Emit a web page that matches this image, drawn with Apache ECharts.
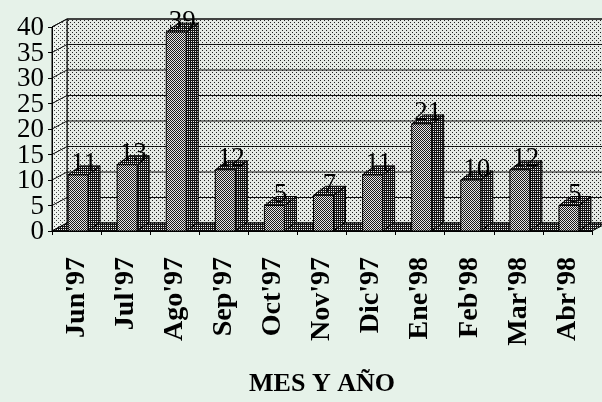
<!DOCTYPE html>
<html>
<head>
<meta charset="utf-8">
<script src="https://cdn.jsdelivr.net/npm/echarts@6/dist/echarts.min.js"></script>
<style>
html,body{margin:0;padding:0;background:#e6f2e9;}
#chart{width:602px;height:402px;}
</style>
</head>
<body>
<div id="chart"></div>
<script>
const categories = ["Jun'97","Jul'97","Ago'97","Sep'97","Oct'97","Nov'97","Dic'97","Ene'98","Feb'98","Mar'98","Abr'98"];
const values = [11, 13, 39, 12, 5, 7, 11, 21, 10, 12, 5];
const yMin = 0, yMax = 40, yStep = 5;
const xTitle = 'MES Y AÑO';

function makePattern(size, bg, fg, dots) {
  const c = document.createElement('canvas');
  c.width = c.height = size;
  const g = c.getContext('2d');
  g.fillStyle = bg; g.fillRect(0, 0, size, size);
  g.fillStyle = fg;
  dots.forEach(d => g.fillRect(d[0], d[1], d[2] || 1, d[3] || 1));
  return { image: c, repeat: 'repeat' };
}
const wallPat  = makePattern(4, '#e4e9e4', '#222', [[0,0],[2,2]]);
const lwallPat = makePattern(4, '#eef3ee', '#444', [[0,0],[2,2]]);
const frontPat = makePattern(2, '#e4e4e4', '#1a1a1a', [[0,0],[1,1]]);
const darkPat  = makePattern(4, '#f0f0f0', '#151515', [[0,0,4,4]]);
(function(){
  const g = darkPat.image.getContext('2d'); g.fillStyle = '#eeeeee';
  [[1,1],[3,3],[1,3],[3,1]].forEach(p => g.fillRect(p[0], p[1], 1, 1));
})();

const WDX = 15, WDY = -8;
const BDX = 12, BDY = -9;
const serif = '"Liberation Serif", "DejaVu Serif", serif';

const chart = echarts.init(document.getElementById('chart'));
chart.setOption({
  backgroundColor: '#e6f2e9',
  animation: false,
  grid: { left: 52, right: 10, top: 27, bottom: 156, containLabel: false },
  xAxis: {
    type: 'category', data: categories, z: 10,
    axisLine: { lineStyle: { color: '#000', width: 1 } },
    axisTick: { show: true, length: 4, lineStyle: { color: '#000' } },
    axisLabel: { rotate: 90, margin: 26, fontFamily: serif, fontWeight: 'bold', fontSize: 28, color: '#000', interval: 0 },
    name: xTitle, nameLocation: 'middle', nameGap: 140,
    nameTextStyle: { fontFamily: serif, fontWeight: 'bold', fontSize: 26, color: '#000' }
  },
  yAxis: {
    type: 'value', min: yMin, max: yMax, interval: yStep, z: 10,
    axisLine: { show: true, lineStyle: { color: '#000', width: 1 } },
    axisTick: { show: true, length: 4, lineStyle: { color: '#000' } },
    axisLabel: { show: false },
    splitLine: { show: false }
  },
  series: [
    {
      type: 'custom', silent: true, clip: false, z: 1,
      data: [[0, 0]],
      encode: { x: 0, y: 1 },
      renderItem: function (params, api) {
        const bw = api.size([1, 0])[0];
        const L = api.coord([0, yMin])[0] - bw / 2;
        const R = api.coord([categories.length - 1, yMin])[0] + bw / 2;
        const B = api.coord([0, yMin])[1];
        const T = api.coord([0, yMax])[1];
        const kids = [];
        kids.push({ type: 'polygon', shape: { points: [[L+WDX,T+WDY],[R+WDX,T+WDY],[R+WDX,B+WDY],[L+WDX,B+WDY]] },
          style: { fill: wallPat, stroke: '#000', lineWidth: 1 } });
        kids.push({ type: 'polygon', shape: { points: [[L,T],[L+WDX,T+WDY],[L+WDX,B+WDY],[L,B]] },
          style: { fill: lwallPat, stroke: '#000', lineWidth: 1 } });
        for (let v = yMin; v <= yMax; v += yStep) {
          const y = api.coord([0, v])[1];
          if (v > yMin) {
            kids.push({ type: 'line', shape: { x1: L+WDX, y1: y+WDY, x2: R+WDX, y2: y+WDY }, style: { stroke: '#111', lineWidth: 1 } });
            kids.push({ type: 'line', shape: { x1: L, y1: y, x2: L+WDX, y2: y+WDY }, style: { stroke: '#111', lineWidth: 1 } });
          }
          kids.push({ type: 'text', x: L - 8, y: y + 1,
            style: { text: String(v), fontFamily: serif, fontSize: 27, fill: '#000', align: 'right', verticalAlign: 'middle' } });
        }
        kids.push({ type: 'polygon', shape: { points: [[L,B],[L+WDX,B+WDY],[R+WDX,B+WDY],[R,B]] },
          style: { fill: darkPat, stroke: '#000', lineWidth: 1 } });
        return { type: 'group', children: kids };
      }
    },
    {
      type: 'custom', silent: true, clip: false, z: 3,
      data: values.map((v, i) => [i, v]),
      encode: { x: 0, y: 1 },
      renderItem: function (params, api) {
        const i = api.value(0), v = api.value(1);
        const bw = api.size([1, 0])[0];
        const top = api.coord([i, v]);
        const base = api.coord([i, yMin]);
        const cx = top[0];
        const Lx = cx - bw * 0.173, Rx = cx + bw * 0.234;
        const ty = top[1], by = base[1];
        return { type: 'group', children: [
          { type: 'polygon', shape: { points: [[Rx,ty],[Rx+BDX,ty+BDY],[Rx+BDX,by+BDY],[Rx,by]] },
            style: { fill: darkPat, stroke: '#000', lineWidth: 1 } },
          { type: 'polygon', shape: { points: [[Lx,ty],[Lx+BDX,ty+BDY],[Rx+BDX,ty+BDY],[Rx,ty]] },
            style: { fill: darkPat, stroke: '#000', lineWidth: 1 } },
          { type: 'polygon', shape: { points: [[Lx,ty],[Rx,ty],[Rx,by],[Lx,by]] },
            style: { fill: frontPat, stroke: '#000', lineWidth: 1 } },
          { type: 'text', x: (Lx + Rx + BDX) / 2, y: ty + 3,
            style: { text: String(v), fontFamily: serif, fontSize: 27, fill: '#000', align: 'center', verticalAlign: 'bottom' } }
        ] };
      }
    }
  ]
});
</script>
</body>
</html>
